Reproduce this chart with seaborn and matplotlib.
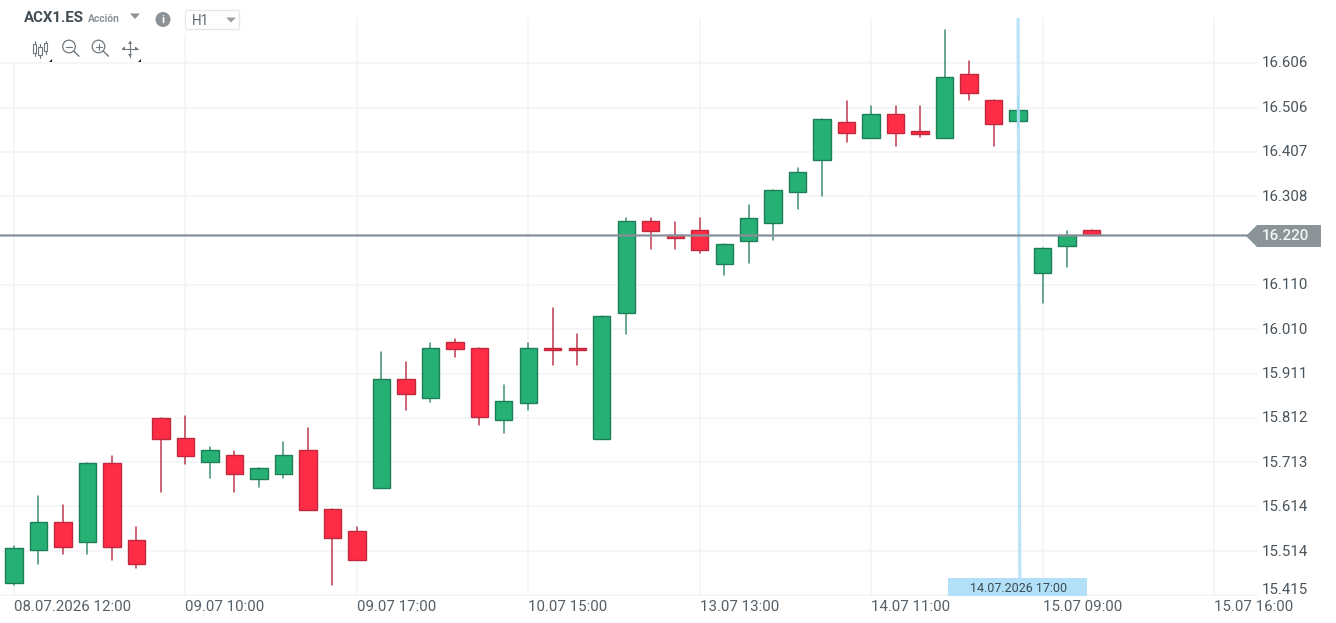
import numpy as np
import pandas as pd
import matplotlib
matplotlib.use("Agg")
import matplotlib.pyplot as plt
import seaborn as sns
from matplotlib.patches import Circle, Polygon, Rectangle, FancyBboxPatch
from matplotlib.lines import Line2D
from matplotlib.transforms import ScaledTranslation

# hourly OHLC candles, oldest first
opens = [15.442, 15.516, 15.578, 15.535, 15.710, 15.539, 15.811, 15.768, 15.714, 15.729, 15.675, 15.687,
         15.740, 15.609, 15.559, 15.655, 15.899, 15.857, 15.981, 15.969, 15.807, 15.846, 15.969, 15.969,
         15.765, 16.047, 16.252, 16.222, 16.232, 16.156, 16.207, 16.248, 16.318, 16.388, 16.473, 16.438,
         16.492, 16.454, 16.438, 16.582, 16.523, 16.477, 16.136, 16.197, 16.233]
closes = [15.520, 15.578, 15.524, 15.710, 15.524, 15.485, 15.764, 15.726, 15.740, 15.687, 15.699, 15.729,
          15.606, 15.544, 15.494, 15.899, 15.865, 15.969, 15.966, 15.814, 15.849, 15.969, 15.963, 15.963,
          16.040, 16.252, 16.229, 16.214, 16.187, 16.201, 16.260, 16.321, 16.361, 16.481, 16.449, 16.492,
          16.449, 16.446, 16.574, 16.539, 16.469, 16.501, 16.191, 16.222, 16.220]
highs = [15.526, 15.638, 15.618, 15.710, 15.726, 15.568, 15.811, 15.816, 15.746, 15.738, 15.699, 15.758,
         15.789, 15.609, 15.568, 15.959, 15.936, 15.979, 15.988, 15.969, 15.886, 15.979, 16.057, 15.999,
         16.040, 16.258, 16.258, 16.250, 16.258, 16.201, 16.289, 16.321, 16.370, 16.481, 16.521, 16.510,
         16.510, 16.510, 16.680, 16.611, 16.523, 16.530, 16.191, 16.230, 16.233]
lows = [15.437, 15.486, 15.507, 15.507, 15.495, 15.477, 15.646, 15.708, 15.677, 15.646, 15.658, 15.677,
        15.606, 15.438, 15.494, 15.655, 15.829, 15.848, 15.948, 15.797, 15.778, 15.829, 15.930, 15.930,
        15.765, 15.999, 16.189, 16.189, 16.181, 16.131, 16.158, 16.209, 16.279, 16.309, 16.429, 16.438,
        16.421, 16.440, 16.438, 16.522, 16.421, 16.460, 16.069, 16.150, 16.220]

price_ticks = [15.415, 15.514, 15.614, 15.713, 15.812, 15.911, 16.010, 16.110, 16.220, 16.308, 16.407, 16.506, 16.606]
price_labels = ["15.415", "15.514", "15.614", "15.713", "15.812", "15.911", "16.010", "16.110", "", "16.308",
                "16.407", "16.506", "16.606"]
time_ticks = [0, 7, 14, 21, 28, 35, 42, 49]
time_labels = ["08.07.2026 12:00", "09.07 10:00", "09.07 17:00", "10.07 15:00", "13.07 13:00", "14.07 11:00",
               "15.07 09:00", "15.07 16:00"]
last_price = 16.220
cursor_slot = 41.0
cursor_label = "14.07.2026 17:00"

UP_FILL, UP_EDGE, UP_WICK = "#26b074", "#1c7f58", "#3f9071"
DOWN_FILL, DOWN_EDGE, DOWN_WICK = "#ff2c46", "#c0283e", "#bd3a4e"
GRID = "#f3f4f5"
TEXT = "#48535b"
GREY = "#8a9297"
CURSOR = "#b2e0f8"

sns.set_theme(style="white")
plt.rcParams["font.family"] = ["Roboto", "DejaVu Sans"]

W, H = 1336, 623
fig = plt.figure(figsize=(W / 100, H / 100), dpi=100, facecolor="white")

# plot area in figure fractions
left, right, top, bottom = 0, 1258, 18, 595.6
slot_px, first_px = 24.49, 14.0
ax = fig.add_axes([left / W, 1 - bottom / H, (right - left) / W, (bottom - top) / H])

df = pd.DataFrame({"slot": np.arange(len(opens)), "open": opens, "close": closes, "high": highs, "low": lows})
df["body_low"] = df[["open", "close"]].min(axis=1)
df["body_size"] = (df["close"] - df["open"]).abs()
df["rising"] = df["close"] >= df["open"]

# wicks
for rising, colour in ((True, UP_WICK), (False, DOWN_WICK)):
    part = df[df["rising"] == rising]
    wicks = part.melt(id_vars="slot", value_vars=["high", "low"], value_name="price")
    sns.lineplot(data=wicks, x="slot", y="price", units="slot", estimator=None, sort=False,
                 color=colour, linewidth=1.1, zorder=2, ax=ax, legend=False)

# bodies
for rising, fill, edge in ((True, UP_FILL, UP_EDGE), (False, DOWN_FILL, DOWN_EDGE)):
    part = df[df["rising"] == rising].sort_values("slot")
    sns.barplot(data=part, x="slot", y="body_size", bottom=part["body_low"].to_numpy(), native_scale=True,
                width=0.71, gap=0, color=fill, saturation=1, edgecolor=edge, linewidth=1.0,
                errorbar=None, zorder=3, ax=ax)

ax.set_xlim((left - first_px) / slot_px, (right - first_px) / slot_px)
ax.set_ylim(15.4144, 16.7065)
ax.set_xlabel("")
ax.set_ylabel("")
for spine in ax.spines.values():
    spine.set_visible(False)

ax.set_axisbelow(True)
ax.grid(True, color=GRID, linewidth=1.1)
ax.yaxis.tick_right()
ax.set_yticks(price_ticks, price_labels)
ax.set_xticks(time_ticks, time_labels)
ax.tick_params(axis="y", length=0, pad=2.7, labelsize=10.8, labelcolor=TEXT)
ax.tick_params(axis="x", length=0, pad=3, labelsize=10.8, labelcolor="#555f67")
for label in ax.get_xticklabels():
    label.set_ha("left")
# price labels sit a pixel above their grid lines; the lowest one rests on its line
nudge = ScaledTranslation(0, 1 / 100, fig.dpi_scale_trans)
price_texts = ax.get_yticklabels()
for label in price_texts:
    label.set_transform(label.get_transform() + nudge)
price_texts[0].set_va("baseline")
ax.get_ygridlines()[8].set_visible(False)

# crosshair and the current price line
ax.plot([cursor_slot, cursor_slot + 0.07], [16.7065, 15.453], color=CURSOR, linewidth=2.3, alpha=0.9,
        zorder=5, solid_capstyle="butt")
ax.plot([(left - first_px) / slot_px, (1250 - first_px) / slot_px], [last_price, last_price], color="#87909a",
        linewidth=1.6, zorder=6, clip_on=False, solid_capstyle="butt", snap=False)

# overlay in pixel coordinates for the tag, cursor label and toolbar
ov = fig.add_axes([0, 0, 1, 1], facecolor="none")
ov.set_xlim(0, W)
ov.set_ylim(H, 0)
ov.axis("off")

ov.add_patch(Polygon([(1246, 236), (1257, 225), (1321, 225), (1321, 247), (1257, 247)], closed=True,
                     facecolor="#8b9498", edgecolor="none"))
ov.text(1262, 236.5, f"{last_price:.3f}", color="#f4f6f6", fontsize=10.9, fontweight="medium",
        va="center", ha="left")

ov.add_patch(Rectangle((948, 578), 139, 18, facecolor=CURSOR, edgecolor="none"))
ov.text(1018.5, 588.5, cursor_label, color="#3e4a52", fontsize=9, ha="center", va="center")

# toolbar background hides the grid underneath
ov.add_patch(Rectangle((13, 0), 137, 62, facecolor="white", edgecolor="none"))
ov.add_patch(Rectangle((150, 0), 110, 34, facecolor="white", edgecolor="none"))
ov.text(24, 18.5, "ACX1.ES", color="#414c54", fontsize=10.8, fontweight="bold", va="center", ha="left")
ov.text(88, 18.5, "Acción", color=GREY, fontsize=7.4, fontweight="bold", va="center", ha="left")
ov.add_patch(Polygon([(130, 13.5), (140, 13.5), (135, 19)], closed=True, facecolor=GREY, edgecolor="none"))

ov.add_patch(Circle((163, 19.5), 7.5, facecolor="#8d9296", edgecolor="none"))
ov.text(163, 20, "i", color="white", fontsize=8, fontweight="bold", ha="center", va="center")

ov.add_patch(FancyBboxPatch((185.5, 10.5), 54, 19, boxstyle="round,pad=0,rounding_size=1.5",
                            facecolor="white", edgecolor="#e4e6e8", linewidth=0.9))
ov.text(192, 21, "H1", color="#5c666e", fontsize=9.8, va="center", ha="left")
ov.add_patch(Polygon([(226, 17.5), (236, 17.5), (231, 22.5)], closed=True, facecolor="#9aa0a5", edgecolor="none"))

# candlestick icon
ICON = "#6f787f"
for cx, y0, y1, b0, b1 in ((34.5, 41, 56, 44, 53), (40, 44, 58, 47, 55), (45.5, 41, 54, 43, 51)):
    ov.add_line(Line2D([cx, cx], [y0, y1], color=ICON, linewidth=0.8))
    ov.add_patch(Rectangle((cx - 1.7, b0), 3.4, b1 - b0, facecolor="white", edgecolor=ICON, linewidth=0.8, zorder=3))

# zoom-out and zoom-in magnifiers
for cx, plus in ((69, False), (98.5, True)):
    ov.add_patch(Circle((cx, 46.5), 6.3, facecolor="none", edgecolor=ICON, linewidth=0.9))
    ov.add_line(Line2D([cx + 4.6, cx + 10], [51, 56.2], color=ICON, linewidth=1.0))
    ov.add_line(Line2D([cx - 3, cx + 3], [46.5, 46.5], color=ICON, linewidth=0.8))
    if plus:
        ov.add_line(Line2D([cx, cx], [43.5, 49.5], color=ICON, linewidth=0.8))

# pan cross
ov.add_line(Line2D([122, 138], [48.5, 48.5], color=ICON, linewidth=0.8))
ov.add_line(Line2D([130, 130], [41, 57], color=ICON, linewidth=0.8))
for pts in (((122, 48.5), (125, 46.5), (125, 50.5)), ((138, 48.5), (135, 46.5), (135, 50.5)),
            ((130, 41), (128, 44), (132, 44)), ((130, 57), (128, 54), (132, 54))):
    ov.add_patch(Polygon(pts, closed=True, facecolor=ICON, edgecolor="none"))

# small corner marks on the expandable buttons
for cx in (52, 141):
    ov.add_patch(Polygon([(cx, 59), (cx, 62), (cx - 3, 62)], closed=True, facecolor="#222222", edgecolor="none"))

fig.savefig("out.png", dpi=100, facecolor="white")
